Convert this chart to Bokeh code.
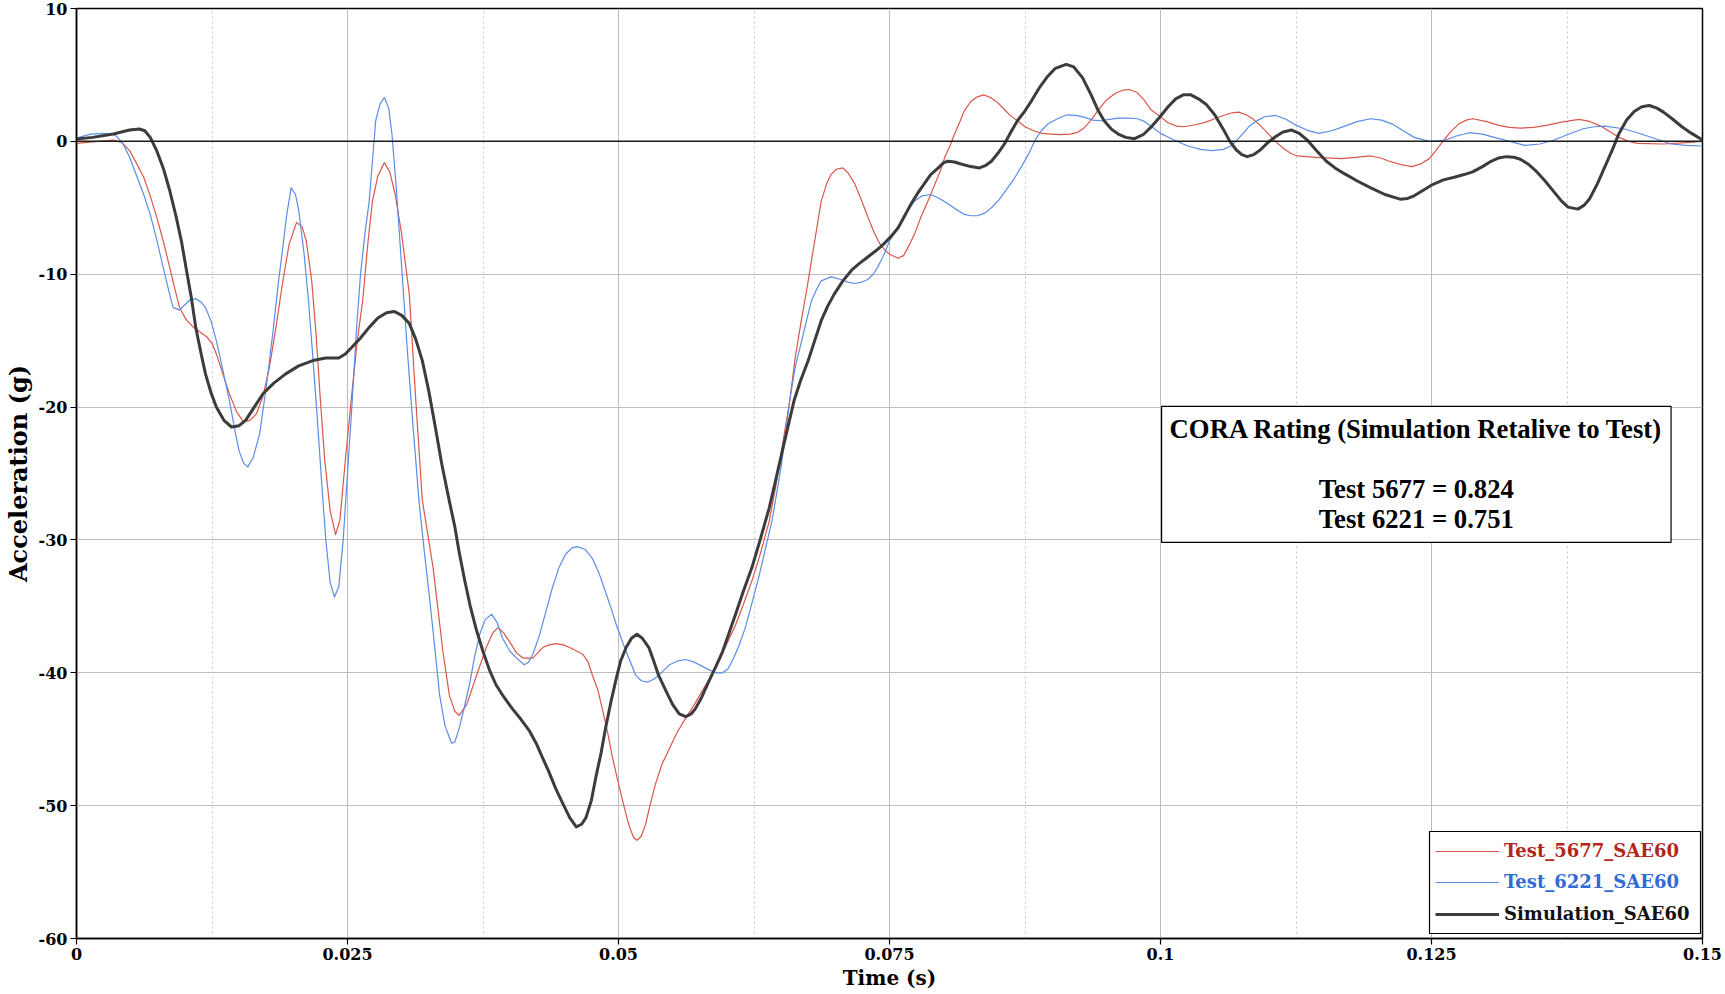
from bokeh.plotting import figure
from bokeh.models import Range1d, FixedTicker, Span, Label, Legend, LegendItem, BoxAnnotation
from bokeh.embed import file_html
from bokeh.resources import INLINE

# ---------------- data ----------------
series_names = ["Test_5677_SAE60", "Test_6221_SAE60", "Simulation_SAE60"]

t_5677 = [0.0000, 0.0020, 0.0034, 0.0042, 0.0049, 0.0055, 0.0062, 0.0068, 0.0074, 0.0080,
          0.0086, 0.0091, 0.0095, 0.0101, 0.0108, 0.0115, 0.0120, 0.0125, 0.0129, 0.0135,
          0.0141, 0.0148, 0.0154, 0.0160, 0.0166, 0.0172, 0.0178, 0.0184, 0.0190, 0.0196,
          0.0203, 0.0208, 0.0212, 0.0217, 0.0221, 0.0225, 0.0229, 0.0234, 0.0239, 0.0243,
          0.0248, 0.0254, 0.0259, 0.0264, 0.0269, 0.0273, 0.0278, 0.0284, 0.0289, 0.0294,
          0.0300, 0.0307, 0.0313, 0.0319, 0.0329, 0.0338, 0.0344, 0.0349, 0.0353, 0.0360,
          0.0369, 0.0378, 0.0384, 0.0389, 0.0394, 0.0399, 0.0406, 0.0412, 0.0421, 0.0430,
          0.0436, 0.0442, 0.0449, 0.0455, 0.0467, 0.0472, 0.0476, 0.0481, 0.0485, 0.0490,
          0.0494, 0.0499, 0.0504, 0.0508, 0.0511, 0.0514, 0.0517, 0.0521, 0.0525, 0.0529,
          0.0534, 0.0540, 0.0547, 0.0554, 0.0562, 0.0570, 0.0577, 0.0585, 0.0593, 0.0600,
          0.0608, 0.0615, 0.0623, 0.0631, 0.0639, 0.0645, 0.0651, 0.0658, 0.0663, 0.0669,
          0.0674, 0.0678, 0.0683, 0.0687, 0.0692, 0.0696, 0.0701, 0.0707, 0.0712, 0.0718,
          0.0724, 0.0730, 0.0736, 0.0741, 0.0746, 0.0750, 0.0758, 0.0763, 0.0767, 0.0773,
          0.0779, 0.0786, 0.0792, 0.0797, 0.0801, 0.0806, 0.0810, 0.0815, 0.0819, 0.0825,
          0.0831, 0.0837, 0.0843, 0.0850, 0.0856, 0.0862, 0.0868, 0.0875, 0.0883, 0.0891,
          0.0899, 0.0908, 0.0917, 0.0924, 0.0930, 0.0936, 0.0942, 0.0950, 0.0958, 0.0965,
          0.0971, 0.0978, 0.0985, 0.0991, 0.0999, 0.1007, 0.1015, 0.1022, 0.1032, 0.1042,
          0.1050, 0.1058, 0.1066, 0.1072, 0.1079, 0.1085, 0.1092, 0.1099, 0.1106, 0.1113,
          0.1120, 0.1126, 0.1143, 0.1167, 0.1180, 0.1194, 0.1203, 0.1211, 0.1222, 0.1232,
          0.1240, 0.1248, 0.1254, 0.1261, 0.1268, 0.1275, 0.1282, 0.1288, 0.1300, 0.1312,
          0.1322, 0.1332, 0.1344, 0.1356, 0.1370, 0.1386, 0.1396, 0.1406, 0.1415, 0.1423,
          0.1432, 0.1440, 0.1464, 0.1485, 0.1500]
g_5677 = [-0.15, 0.0, 0.1, -0.1, -0.7, -1.6, -2.7, -4.1, -5.7, -7.5,
          -9.5, -11.2, -12.5, -13.4, -14.0, -14.4, -14.7, -15.2, -16.0, -17.5,
          -19.0, -20.4, -21.1, -21.0, -20.5, -19.2, -17.0, -14.0, -10.7, -7.8,
          -6.1, -6.4, -7.5, -10.5, -14.5, -19.5, -24.0, -27.8, -29.6, -28.5,
          -24.0, -19.0, -15.0, -12.0, -7.5, -4.5, -2.6, -1.6, -2.3, -4.0,
          -7.0, -11.5, -19.5, -27.0, -32.1, -38.4, -41.7, -42.9, -43.2, -42.4,
          -40.2, -38.1, -37.0, -36.6, -37.0, -37.6, -38.5, -38.9, -38.9, -38.1,
          -37.9, -37.8, -37.9, -38.1, -38.6, -39.2, -40.2, -41.3, -42.7, -44.5,
          -46.2, -48.0, -49.7, -51.0, -51.8, -52.4, -52.6, -52.3, -51.4, -50.0,
          -48.4, -46.9, -45.7, -44.5, -43.4, -42.4, -41.4, -40.3, -39.1, -37.8,
          -36.4, -34.9, -33.1, -31.0, -28.6, -26.0, -23.0, -19.5, -16.3, -13.3,
          -11.0, -9.0, -6.5, -4.5, -3.2, -2.5, -2.1, -2.0, -2.4, -3.2,
          -4.4, -5.7, -6.9, -7.7, -8.2, -8.5, -8.8, -8.6, -8.0, -7.0,
          -5.7, -4.4, -3.2, -2.2, -1.2, -0.3, 0.55, 1.5, 2.3, 3.0,
          3.35, 3.5, 3.3, 2.9, 2.4, 1.9, 1.55, 1.1, 0.8, 0.6,
          0.55, 0.5, 0.55, 0.7, 1.05, 1.6, 2.3, 3.1, 3.6, 3.85,
          3.9, 3.7, 3.1, 2.4, 1.9, 1.4, 1.15, 1.1, 1.25, 1.45,
          1.7, 1.95, 2.15, 2.2, 2.0, 1.7, 1.2, 0.6, 0.0, -0.5,
          -0.9, -1.1, -1.2, -1.3, -1.2, -1.1, -1.25, -1.5, -1.75, -1.9,
          -1.7, -1.3, -0.7, 0.05, 0.75, 1.3, 1.6, 1.7, 1.5, 1.2,
          1.05, 1.0, 1.05, 1.2, 1.45, 1.65, 1.5, 1.15, 0.7, 0.3,
          0.0, -0.15, -0.2, -0.1, 0.0]

t_6221 = [0.0000, 0.0013, 0.0025, 0.0034, 0.0038, 0.0043, 0.0049, 0.0055, 0.0062, 0.0068,
          0.0074, 0.0080, 0.0085, 0.0089, 0.0095, 0.0100, 0.0105, 0.0110, 0.0115, 0.0119,
          0.0124, 0.0129, 0.0135, 0.0141, 0.0146, 0.0150, 0.0154, 0.0158, 0.0163, 0.0169,
          0.0175, 0.0181, 0.0186, 0.0190, 0.0194, 0.0198, 0.0202, 0.0205, 0.0210, 0.0214,
          0.0218, 0.0222, 0.0226, 0.0230, 0.0234, 0.0238, 0.0242, 0.0246, 0.0250, 0.0254,
          0.0258, 0.0262, 0.0266, 0.0270, 0.0273, 0.0276, 0.0280, 0.0284, 0.0288, 0.0291,
          0.0295, 0.0300, 0.0305, 0.0310, 0.0316, 0.0321, 0.0326, 0.0331, 0.0335, 0.0340,
          0.0346, 0.0349, 0.0353, 0.0358, 0.0363, 0.0367, 0.0372, 0.0377, 0.0383, 0.0388,
          0.0393, 0.0400, 0.0406, 0.0413, 0.0417, 0.0421, 0.0427, 0.0433, 0.0439, 0.0445,
          0.0451, 0.0457, 0.0462, 0.0469, 0.0476, 0.0482, 0.0488, 0.0493, 0.0498, 0.0507,
          0.0516, 0.0521, 0.0527, 0.0532, 0.0537, 0.0547, 0.0555, 0.0562, 0.0570, 0.0577,
          0.0584, 0.0590, 0.0596, 0.0601, 0.0605, 0.0611, 0.0617, 0.0623, 0.0630, 0.0636,
          0.0642, 0.0650, 0.0658, 0.0663, 0.0669, 0.0674, 0.0678, 0.0683, 0.0687, 0.0696,
          0.0705, 0.0712, 0.0718, 0.0724, 0.0730, 0.0735, 0.0739, 0.0745, 0.0750, 0.0756,
          0.0761, 0.0767, 0.0773, 0.0780, 0.0788, 0.0796, 0.0804, 0.0811, 0.0819, 0.0825,
          0.0831, 0.0838, 0.0844, 0.0851, 0.0859, 0.0865, 0.0871, 0.0878, 0.0884, 0.0890,
          0.0896, 0.0905, 0.0914, 0.0922, 0.0930, 0.0938, 0.0945, 0.0953, 0.0961, 0.0970,
          0.0979, 0.0985, 0.0991, 0.1000, 0.1010, 0.1025, 0.1037, 0.1048, 0.1058, 0.1065,
          0.1073, 0.1082, 0.1090, 0.1096, 0.1106, 0.1115, 0.1123, 0.1135, 0.1146, 0.1158,
          0.1170, 0.1182, 0.1194, 0.1204, 0.1214, 0.1224, 0.1234, 0.1248, 0.1261, 0.1273,
          0.1285, 0.1297, 0.1308, 0.1322, 0.1336, 0.1350, 0.1363, 0.1377, 0.1390, 0.1400,
          0.1410, 0.1427, 0.1440, 0.1451, 0.1471, 0.1485, 0.1500]
g_6221 = [0.25, 0.55, 0.6, 0.55, 0.3, -0.2, -1.2, -2.5, -4.0, -5.5,
          -7.4, -9.5, -11.2, -12.5, -12.7, -12.3, -11.9, -11.85, -12.1, -12.5,
          -13.5, -15.0, -17.2, -19.5, -21.7, -23.3, -24.2, -24.5, -23.8, -22.0,
          -18.5, -14.5, -10.8, -8.2, -5.5, -3.5, -4.0, -5.2, -8.5, -12.0,
          -16.2, -20.7, -25.5, -30.0, -33.2, -34.3, -33.5, -30.0, -25.0, -20.0,
          -14.5, -10.0, -7.0, -4.5, -1.5, 1.55, 2.8, 3.3, 2.5, 0.55,
          -3.5, -9.5, -15.5, -21.0, -27.1, -31.0, -34.6, -38.5, -41.7, -44.0,
          -45.3, -45.2, -44.2, -42.5, -40.7, -38.9, -37.1, -36.0, -35.6, -36.2,
          -37.4, -38.4, -38.9, -39.4, -39.2, -38.6, -37.2, -35.4, -33.6, -32.1,
          -31.1, -30.6, -30.5, -30.7, -31.4, -32.5, -33.9, -35.1, -36.4, -38.4,
          -40.2, -40.6, -40.7, -40.5, -40.2, -39.4, -39.1, -39.0, -39.2, -39.5,
          -39.8, -40.0, -40.0, -39.7, -39.1, -38.0, -36.6, -34.8, -32.6, -30.5,
          -28.4, -24.5, -19.5, -17.0, -15.0, -13.3, -12.0, -11.1, -10.5, -10.2,
          -10.4, -10.6, -10.7, -10.6, -10.4, -10.0, -9.5, -8.5, -7.5, -6.7,
          -6.0, -5.2, -4.5, -4.1, -4.0, -4.3, -4.7, -5.1, -5.5, -5.6,
          -5.6, -5.4, -5.0, -4.4, -3.5, -2.8, -2.0, -1.0, 0.05, 0.8,
          1.3, 1.7, 2.0, 1.95, 1.8, 1.6, 1.55, 1.65, 1.75, 1.75,
          1.7, 1.5, 1.15, 0.6, 0.2, -0.35, -0.6, -0.7, -0.6, -0.35,
          0.3, 1.15, 1.6, 1.85, 1.95, 1.7, 1.3, 0.85, 0.6, 0.8,
          1.15, 1.5, 1.7, 1.6, 1.3, 0.8, 0.3, 0.0, 0.05, 0.4,
          0.65, 0.55, 0.3, 0.0, -0.3, -0.2, 0.1, 0.55, 0.95, 1.1,
          1.15, 0.95, 0.65, 0.35, -0.2, -0.3, -0.35]

t_sim = [0.0000, 0.0015, 0.0034, 0.0049, 0.0058, 0.0063, 0.0068, 0.0074, 0.0080, 0.0086,
         0.0092, 0.0097, 0.0101, 0.0106, 0.0110, 0.0115, 0.0119, 0.0124, 0.0129, 0.0136,
         0.0143, 0.0150, 0.0156, 0.0164, 0.0172, 0.0182, 0.0193, 0.0205, 0.0218, 0.0230,
         0.0242, 0.0248, 0.0254, 0.0262, 0.0270, 0.0278, 0.0286, 0.0293, 0.0300, 0.0307,
         0.0313, 0.0319, 0.0325, 0.0331, 0.0337, 0.0344, 0.0349, 0.0353, 0.0358, 0.0363,
         0.0369, 0.0375, 0.0381, 0.0387, 0.0394, 0.0402, 0.0410, 0.0418, 0.0424, 0.0430,
         0.0436, 0.0442, 0.0449, 0.0455, 0.0461, 0.0466, 0.0470, 0.0475, 0.0479, 0.0484,
         0.0488, 0.0493, 0.0498, 0.0502, 0.0507, 0.0512, 0.0517, 0.0522, 0.0528, 0.0532,
         0.0537, 0.0544, 0.0550, 0.0556, 0.0562, 0.0567, 0.0571, 0.0577, 0.0583, 0.0590,
         0.0596, 0.0602, 0.0608, 0.0615, 0.0623, 0.0631, 0.0639, 0.0645, 0.0652, 0.0662,
         0.0668, 0.0675, 0.0681, 0.0687, 0.0693, 0.0699, 0.0707, 0.0715, 0.0722, 0.0730,
         0.0738, 0.0745, 0.0752, 0.0758, 0.0764, 0.0770, 0.0776, 0.0782, 0.0788, 0.0795,
         0.0800, 0.0804, 0.0810, 0.0816, 0.0825, 0.0833, 0.0839, 0.0844, 0.0850, 0.0856,
         0.0862, 0.0868, 0.0875, 0.0881, 0.0888, 0.0895, 0.0903, 0.0913, 0.0920, 0.0928,
         0.0936, 0.0942, 0.0948, 0.0955, 0.0961, 0.0968, 0.0976, 0.0984, 0.0991, 0.0999,
         0.1007, 0.1014, 0.1021, 0.1028, 0.1035, 0.1042, 0.1050, 0.1058, 0.1064, 0.1070,
         0.1075, 0.1080, 0.1086, 0.1092, 0.1099, 0.1106, 0.1113, 0.1121, 0.1128, 0.1136,
         0.1144, 0.1153, 0.1161, 0.1170, 0.1182, 0.1194, 0.1207, 0.1221, 0.1228, 0.1234,
         0.1242, 0.1251, 0.1261, 0.1271, 0.1280, 0.1288, 0.1297, 0.1305, 0.1312, 0.1319,
         0.1326, 0.1332, 0.1339, 0.1346, 0.1355, 0.1363, 0.1370, 0.1376, 0.1385, 0.1391,
         0.1396, 0.1403, 0.1410, 0.1417, 0.1423, 0.1430, 0.1437, 0.1444, 0.1451, 0.1458,
         0.1464, 0.1472, 0.1481, 0.1490, 0.1500]
g_sim = [0.17, 0.3, 0.55, 0.85, 0.93, 0.8, 0.3, -0.7, -2.0, -3.7,
         -5.7, -7.6, -9.5, -11.8, -14.0, -16.0, -17.5, -18.9, -20.0, -21.0,
         -21.5, -21.4, -21.0, -20.0, -19.0, -18.2, -17.5, -16.9, -16.5, -16.3,
         -16.3, -16.0, -15.5, -14.8, -14.0, -13.3, -12.9, -12.8, -13.1, -13.7,
         -14.9, -16.5, -18.8, -21.5, -24.3, -27.1, -29.0, -30.9, -33.0, -34.9,
         -36.8, -38.4, -39.8, -40.9, -41.8, -42.7, -43.5, -44.4, -45.3, -46.4,
         -47.5, -48.7, -49.9, -50.9, -51.6, -51.4, -50.9, -49.6, -47.9, -46.0,
         -44.2, -42.2, -40.4, -39.1, -38.1, -37.4, -37.1, -37.4, -38.1, -39.0,
         -40.2, -41.4, -42.4, -43.1, -43.3, -43.1, -42.7, -41.8, -40.7, -39.5,
         -38.4, -37.0, -35.6, -33.9, -32.1, -29.9, -27.6, -25.5, -23.0, -19.5,
         -18.0, -16.5, -15.0, -13.5, -12.4, -11.5, -10.5, -9.7, -9.2, -8.7,
         -8.2, -7.7, -7.1, -6.5, -5.6, -4.7, -3.9, -3.2, -2.5, -2.0,
         -1.6, -1.5, -1.55, -1.7, -1.9, -2.0, -1.8, -1.5, -0.9, -0.2,
         0.7, 1.55, 2.3, 3.05, 4.0, 4.8, 5.5, 5.8, 5.6, 4.8,
         3.5, 2.4, 1.55, 0.9, 0.55, 0.3, 0.2, 0.5, 1.05, 1.8,
         2.6, 3.2, 3.5, 3.5, 3.2, 2.8, 2.0, 0.9, 0.0, -0.65,
         -1.0, -1.15, -1.0, -0.65, -0.1, 0.35, 0.7, 0.85, 0.6, 0.05,
         -0.7, -1.5, -2.0, -2.45, -3.0, -3.5, -4.0, -4.35, -4.3, -4.1,
         -3.7, -3.25, -2.9, -2.7, -2.5, -2.3, -1.9, -1.5, -1.25, -1.15,
         -1.2, -1.35, -1.7, -2.2, -3.0, -3.8, -4.5, -4.95, -5.1, -4.8,
         -4.3, -3.2, -1.9, -0.6, 0.6, 1.6, 2.25, 2.6, 2.7, 2.5,
         2.2, 1.7, 1.1, 0.6, 0.1]

x_ticks = [0.0, 0.025, 0.05, 0.075, 0.1, 0.125, 0.15]
x_tick_labels = ["0", "0.025", "0.05", "0.075", "0.1", "0.125", "0.15"]
y_ticks = [10, 0, -10, -20, -30, -40, -50, -60]
y_tick_labels = ["10", "0", "-10", "-20", "-30", "-40", "-50", "-60"]

x_title = "Time (s)"
y_title = "Acceleration (g)"
cora_title = "CORA Rating (Simulation Retalive to Test)"
cora_scores = ["Test 5677 = 0.824", "Test 6221 = 0.751"]

# ---------------- styling ----------------
FONT = "DejaVu Serif"
line_colors = ["#d9574a", "#5b8de6", "#3c3c3c"]
text_colors = ["#b3261e", "#2f6bd6", "#111111"]
line_widths = [1.2, 1.2, 3.0]

W_FIG, H_FIG = 1725, 994
BORDER_L, BORDER_R = 74, 23
p = figure(width=W_FIG, height=H_FIG, x_range=Range1d(0, 0.15), y_range=Range1d(-60, 10),
           output_backend="svg", toolbar_location=None,
           min_border_left=BORDER_L, min_border_right=BORDER_R, min_border_top=8,
           min_border_bottom=56)

p.background_fill_color = "white"
p.border_fill_color = "white"
p.outline_line_color = "black"
p.outline_line_width = 1.5
p.outline_line_alpha = 1.0

minor_x = [(a + b) / 2 for a, b in zip(x_ticks[:-1], x_ticks[1:])]
p.xaxis.ticker = FixedTicker(ticks=x_ticks, minor_ticks=minor_x)
p.yaxis.ticker = FixedTicker(ticks=y_ticks)
p.xaxis.major_label_overrides = {v: s for v, s in zip(x_ticks, x_tick_labels)}
p.yaxis.major_label_overrides = {v: s for v, s in zip(y_ticks, y_tick_labels)}

for ax in (p.xaxis, p.yaxis):
    ax.axis_line_color = "black"
    ax.axis_line_width = 1.5
    ax.major_tick_line_color = "black"
    ax.major_tick_line_width = 1.2
    ax.major_tick_in = 0
    ax.major_tick_out = 6
    ax.minor_tick_line_color = None
    ax.major_label_text_font = FONT
    ax.major_label_text_font_style = "bold"
    ax.major_label_text_font_size = "16px"
    ax.major_label_text_color = "black"
    ax.axis_label_text_font = FONT
    ax.axis_label_text_font_style = "bold"
    ax.axis_label_text_color = "black"

p.xaxis.axis_label = x_title
p.yaxis.axis_label = y_title
p.xaxis.axis_label_text_font_size = "20px"
p.yaxis.axis_label_text_font_size = "24px"
p.xaxis.major_label_standoff = 3
p.xaxis.axis_label_standoff = 3
p.yaxis.major_label_standoff = 3
p.yaxis.axis_label_standoff = 3

p.xgrid.grid_line_color = "#bdbdbd"
p.xgrid.grid_line_width = 1
p.xgrid.minor_grid_line_color = "#c8c8c8"
p.xgrid.minor_grid_line_dash = "2 3"
p.xgrid.minor_grid_line_width = 1
p.ygrid.grid_line_color = "#bdbdbd"
p.ygrid.grid_line_width = 1

p.add_layout(Span(location=0, dimension="width", line_color="#1a1a1a", line_width=1.5))

renderers = []
for t, g, c, w in zip([t_5677, t_6221, t_sim], [g_5677, g_6221, g_sim], line_colors, line_widths):
    renderers.append(p.line(t, g, line_color=c, line_width=w, line_join="round"))

# CORA annotation box
p.add_layout(Label(x=0.1236, y=-25.06, x_units="data", y_units="data",
                   text=cora_title + "\n\n" + "\n".join(cora_scores),
                   text_align="center", text_baseline="middle",
                   text_font="Liberation Serif", text_font_style="bold", text_font_size="26.7px",
                   text_line_height=1.0, text_color="black",
                   border_line_color="black", border_line_width=1.2,
                   background_fill_color="white", background_fill_alpha=1.0, padding=8))

# legend: one frame box + one legend per series (coloured label text)
frame_w = W_FIG - BORDER_L - BORDER_R
p.add_layout(BoxAnnotation(left=frame_w - 275, right=frame_w - 4, bottom=5, top=107,
                           left_units="screen", right_units="screen",
                           bottom_units="screen", top_units="screen",
                           fill_color="white", fill_alpha=1.0,
                           line_color="black", line_width=1.2, line_alpha=1.0))
row_bottoms = [77, 46, 14]
for name, r, tc, yb in zip(series_names, renderers, text_colors, row_bottoms):
    leg = Legend(items=[LegendItem(label=name, renderers=[r])],
                 location=(frame_w - 269, yb),
                 border_line_color=None, background_fill_alpha=0.0,
                 padding=0, margin=0, spacing=0,
                 glyph_width=64, glyph_height=20, label_height=20, label_standoff=5,
                 label_text_font=FONT, label_text_font_style="bold",
                 label_text_font_size="18px", label_text_color=tc)
    p.add_layout(leg)

open("out.html", "w").write(file_html(p, INLINE))
